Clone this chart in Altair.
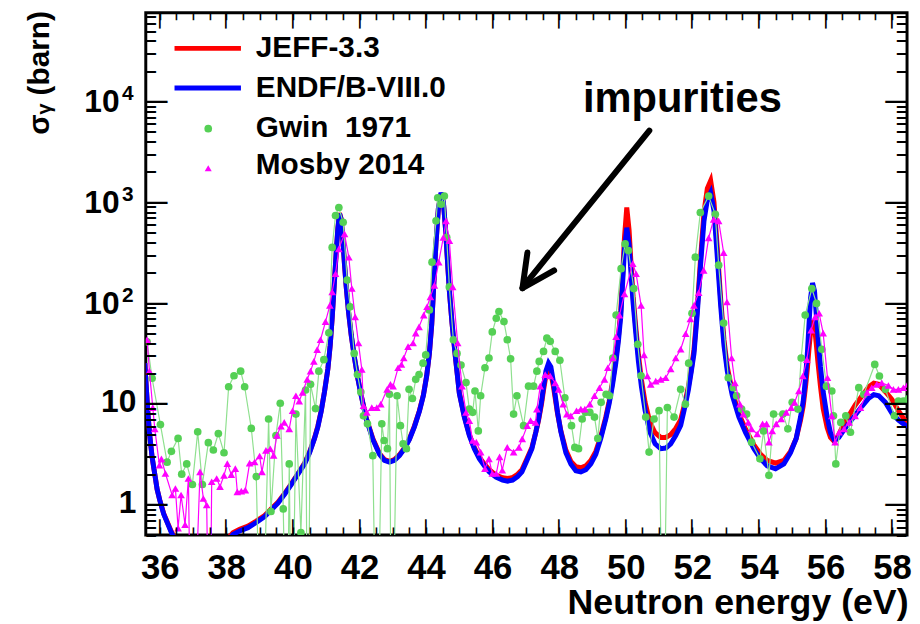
import altair as alt
import pandas as pd

# ---------------- data ----------------
# ENDF/B-VIII.0 evaluated capture cross section (E [eV], sigma [barn])
endf = [
    (35.55, 24), (35.60, 13), (35.65, 7.2), (35.70, 4.6), (35.77, 2.8), (35.85, 1.9),
    (35.92, 1.35), (36.00, 1.05), (36.12, 0.76), (36.25, 0.6), (36.35, 0.5), (36.50, 0.4),
    (36.80, 0.3), (37.20, 0.26), (37.60, 0.29), (38.00, 0.4), (38.20, 0.48), (38.40, 0.52),
    (38.65, 0.56), (38.90, 0.63), (39.15, 0.72), (39.35, 0.84), (39.55, 0.98), (39.75, 1.2),
    (39.95, 1.5), (40.15, 1.9), (40.35, 2.4), (40.50, 3.1), (40.65, 4.3), (40.75, 5.6),
    (40.85, 8.0), (40.95, 12.5), (41.05, 21), (41.12, 36), (41.18, 68), (41.24, 140),
    (41.30, 300), (41.35, 520), (41.40, 730), (41.45, 640), (41.50, 400), (41.55, 230),
    (41.60, 140), (41.67, 78), (41.75, 46), (41.85, 27), (41.95, 17), (42.05, 11.5),
    (42.20, 6.8), (42.40, 4.2), (42.60, 3.0), (42.75, 2.6), (42.90, 2.5), (43.05, 2.6),
    (43.20, 2.9), (43.35, 3.4), (43.50, 4.2), (43.65, 5.6), (43.80, 8.0), (43.92, 11.5),
    (44.02, 18), (44.10, 30), (44.17, 58), (44.23, 140), (44.30, 380), (44.37, 820),
    (44.45, 1180), (44.52, 960), (44.58, 540), (44.64, 260), (44.70, 125), (44.78, 60),
    (44.88, 28), (45.00, 12), (45.15, 7), (45.30, 4.6), (45.45, 3.4), (45.60, 2.7),
    (45.75, 2.3), (45.90, 2.0), (46.10, 1.78), (46.30, 1.66), (46.45, 1.62), (46.60, 1.66),
    (46.75, 1.8), (46.88, 2.0), (47.03, 2.6), (47.18, 3.4), (47.30, 5.0), (47.38, 6.7),
    (47.47, 10), (47.53, 14), (47.60, 20), (47.68, 24), (47.75, 22), (47.82, 16),
    (47.88, 11.5), (47.95, 7.8), (48.05, 5.0), (48.20, 3.1), (48.35, 2.4), (48.50, 2.05),
    (48.65, 2.0), (48.80, 2.1), (48.95, 2.4), (49.10, 3.0), (49.25, 4.3), (49.40, 6.7),
    (49.50, 9.5), (49.60, 14.5), (49.70, 24), (49.78, 40), (49.85, 70), (49.91, 160),
    (49.96, 320), (50.03, 530), (50.10, 360), (50.16, 180), (50.22, 95), (50.30, 48),
    (50.38, 25), (50.47, 14), (50.58, 8.2), (50.72, 5.0), (50.88, 3.8), (51.05, 3.4),
    (51.20, 3.45), (51.35, 3.8), (51.50, 4.6), (51.65, 5.8), (51.78, 9), (51.88, 13),
    (51.97, 20), (52.05, 30), (52.15, 76), (52.25, 234), (52.35, 620), (52.45, 1000),
    (52.55, 1180), (52.65, 780), (52.75, 270), (52.85, 90), (52.95, 36), (53.05, 20),
    (53.20, 11.5), (53.40, 7), (53.60, 4.9), (53.85, 3.4), (54.05, 2.7), (54.25, 2.3),
    (54.50, 2.15), (54.75, 2.4), (54.95, 3.1), (55.12, 4.3), (55.25, 7), (55.33, 10),
    (55.40, 17), (55.46, 32), (55.50, 55), (55.55, 105), (55.61, 150), (55.67, 125),
    (55.72, 75), (55.77, 45), (55.85, 22), (55.93, 12.5), (56.05, 7), (56.15, 4.9),
    (56.27, 4.1), (56.40, 4.4), (56.55, 5.2), (56.72, 6.2), (56.90, 7.4), (57.10, 9.0),
    (57.30, 10.8), (57.45, 11.7), (57.60, 11.4), (57.80, 9.8), (58.00, 7.6), (58.20, 6.5),
    (58.40, 5.8), (58.50, 5.7),
]

# JEFF-3.3 evaluated capture cross section
jeff = [
    (35.55, 24), (35.60, 13), (35.65, 7.2), (35.70, 4.6), (35.77, 2.8), (35.85, 1.9),
    (35.92, 1.35), (36.00, 1.05), (36.12, 0.77), (36.25, 0.61), (36.35, 0.51), (36.50, 0.41),
    (36.80, 0.31), (37.20, 0.27), (37.60, 0.3), (38.00, 0.42), (38.20, 0.5), (38.40, 0.54),
    (38.65, 0.58), (38.90, 0.65), (39.15, 0.74), (39.35, 0.86), (39.55, 1.0), (39.75, 1.22),
    (39.95, 1.52), (40.15, 1.92), (40.35, 2.45), (40.50, 3.15), (40.65, 4.35), (40.75, 5.7),
    (40.85, 8.1), (40.95, 12.6), (41.05, 21), (41.12, 36), (41.18, 68), (41.24, 140),
    (41.30, 300), (41.35, 520), (41.40, 740), (41.45, 650), (41.50, 400), (41.55, 230),
    (41.60, 140), (41.67, 78), (41.75, 46), (41.85, 27), (41.95, 17), (42.05, 11.6),
    (42.20, 6.9), (42.40, 4.3), (42.60, 3.05), (42.75, 2.65), (42.90, 2.55), (43.05, 2.65),
    (43.20, 2.95), (43.35, 3.45), (43.50, 4.25), (43.65, 5.7), (43.80, 8.1), (43.92, 11.6),
    (44.02, 18), (44.10, 30), (44.17, 58), (44.23, 140), (44.30, 380), (44.37, 820),
    (44.45, 1150), (44.52, 950), (44.58, 540), (44.64, 260), (44.70, 125), (44.78, 60),
    (44.88, 28), (45.00, 12.2), (45.15, 7.1), (45.30, 4.7), (45.45, 3.5), (45.60, 2.8),
    (45.75, 2.4), (45.90, 2.1), (46.10, 1.86), (46.30, 1.75), (46.45, 1.72), (46.60, 1.76),
    (46.75, 1.9), (46.88, 2.1), (47.03, 2.7), (47.18, 3.5), (47.30, 5.0), (47.38, 6.5),
    (47.47, 9.5), (47.53, 13), (47.60, 18), (47.68, 20.5), (47.75, 19), (47.82, 14.5),
    (47.88, 10.8), (47.95, 7.6), (48.05, 5.1), (48.20, 3.3), (48.35, 2.55), (48.50, 2.25),
    (48.65, 2.2), (48.80, 2.3), (48.95, 2.6), (49.10, 3.2), (49.25, 4.5), (49.40, 7.0),
    (49.50, 10), (49.60, 15.5), (49.70, 26), (49.78, 44), (49.85, 80), (49.91, 190),
    (49.96, 420), (50.03, 840), (50.10, 500), (50.16, 225), (50.22, 110), (50.30, 55),
    (50.38, 29), (50.47, 16.5), (50.58, 9.8), (50.72, 6.3), (50.88, 4.9), (51.05, 4.4),
    (51.20, 4.4), (51.35, 4.7), (51.50, 5.4), (51.65, 6.6), (51.78, 9.8), (51.88, 14),
    (51.97, 21), (52.05, 33), (52.15, 85), (52.25, 270), (52.35, 760), (52.45, 1300),
    (52.55, 1550), (52.65, 950), (52.75, 330), (52.85, 105), (52.95, 41), (53.05, 22),
    (53.20, 12.5), (53.40, 7.5), (53.60, 5.3), (53.85, 3.7), (54.05, 3.0), (54.25, 2.6),
    (54.50, 2.45), (54.75, 2.6), (54.95, 3.2), (55.12, 4.3), (55.25, 6.5), (55.33, 9),
    (55.40, 14), (55.46, 22), (55.50, 32), (55.55, 48), (55.61, 64), (55.67, 55),
    (55.72, 38), (55.77, 25), (55.85, 14), (55.93, 8.5), (56.05, 5.5), (56.15, 4.4),
    (56.27, 4.0), (56.40, 4.7), (56.55, 6.0), (56.72, 7.4), (56.90, 9.3), (57.10, 11.4),
    (57.30, 14), (57.45, 15.2), (57.60, 14.8), (57.80, 12.5), (58.00, 10.4), (58.20, 8.0),
    (58.40, 6.4), (58.50, 6.1),
]

# Gwin 1971 measured points (0.01 = value below the axis / negative)
gwin = [
    (35.62, 39), (35.77, 17), (36.02, 5.9), (36.22, 2.5), (36.35, 3.2), (36.55, 4.3),
    (36.66, 1.9), (36.81, 2.4), (36.98, 1.5), (37.14, 5.0), (37.28, 1.5), (37.46, 3.9),
    (37.61, 3.3), (37.76, 4.8), (37.93, 3.1), (38.07, 14), (38.23, 18), (38.43, 20),
    (38.55, 14), (38.75, 5.4), (38.90, 1.8), (39.05, 0.01), (39.27, 6.7), (39.34, 0.81),
    (39.49, 4.6), (39.62, 9.6), (39.71, 0.86), (39.82, 0.01), (39.89, 2.4), (39.97, 0.01),
    (40.09, 7.5), (40.24, 0.5), (40.38, 13), (40.45, 0.01), (40.53, 14.8), (40.68, 8.5),
    (40.78, 20), (40.93, 26), (41.08, 48), (41.18, 338), (41.28, 700), (41.38, 840),
    (41.51, 600), (41.63, 160), (41.72, 87), (41.84, 30), (41.94, 18.5), (42.04, 12.4),
    (42.12, 7.2), (42.24, 6.0), (42.40, 2.9), (42.52, 0.01), (42.67, 6.0), (42.74, 4.1),
    (42.84, 3.4), (42.90, 11.8), (42.97, 0.01), (43.13, 11.4), (43.23, 5.75), (43.31, 3.8),
    (43.41, 3.4), (43.49, 13.2), (43.59, 10.7), (43.69, 16.6), (43.79, 18.5), (43.91, 24),
    (43.99, 29), (44.10, 81), (44.18, 241), (44.30, 620), (44.35, 1050), (44.45, 905),
    (44.55, 1090), (44.62, 425), (44.70, 137), (44.82, 41), (44.93, 30), (45.05, 23),
    (45.20, 15.4), (45.30, 8.4), (45.40, 7.8), (45.47, 12.7), (45.57, 5.1), (45.64, 11.4),
    (45.77, 21.6), (45.89, 27), (45.99, 49), (46.11, 67), (46.19, 78), (46.34, 62),
    (46.44, 41), (46.54, 26.5), (46.63, 7.5), (46.73, 11.4), (46.93, 5.75), (47.08, 14.2),
    (47.23, 14.2), (47.33, 20), (47.40, 25), (47.53, 31.4), (47.63, 42.5), (47.73, 39.5),
    (47.88, 31.4), (48.02, 25.6), (48.17, 10.9), (48.37, 5.75), (48.47, 3.5), (48.58, 3.4),
    (48.69, 6.7), (48.79, 7.8), (48.92, 7.8), (49.06, 7.0), (49.16, 4.3), (49.26, 9.8),
    (49.41, 11.8), (49.51, 11.4), (49.61, 27), (49.71, 72), (49.86, 208), (49.98, 366),
    (50.08, 314), (50.24, 132), (50.36, 37), (50.46, 18), (50.60, 7.0), (50.70, 3.15),
    (50.85, 6.7), (51.00, 8.1), (51.12, 0.01), (51.25, 8.7), (51.45, 7.0), (51.65, 13.2),
    (51.79, 9.4), (51.89, 24), (51.99, 75), (52.09, 270), (52.24, 750), (52.49, 1090),
    (52.69, 720), (52.79, 225), (52.94, 60), (53.08, 17.2), (53.23, 13.7), (53.33, 11.4),
    (53.48, 8.4), (53.63, 7.5), (53.78, 3.95), (54.03, 2.7), (54.14, 5.1), (54.30, 1.85),
    (54.44, 7.5), (54.72, 7.5), (54.87, 5.35), (55.00, 9.8), (55.17, 8.4), (55.27, 27),
    (55.39, 72), (55.59, 132), (55.73, 94), (55.89, 33), (56.03, 14.2), (56.19, 12.7),
    (56.24, 7.2), (56.31, 2.4), (56.46, 6.2), (56.61, 7.2), (56.75, 4.95), (57.00, 13.7),
    (57.15, 11.8), (57.48, 23.3), (57.62, 17.9), (57.80, 13.2), (58.07, 7.2), (58.19, 10.1),
    (58.34, 10.1), (58.49, 10.6),
]

# Mosby 2014 measured points
mosby = [
    (35.62, 41), (35.69, 20), (35.79, 8.7), (35.85, 5.35), (35.99, 2.33), (36.05, 2.7),
    (36.17, 1.93), (36.37, 1.18), (36.47, 1.37), (36.55, 0.555), (36.64, 1.18), (36.76, 0.6),
    (36.86, 1.72), (36.96, 0.01), (37.21, 2.0), (37.31, 1.09), (37.41, 0.94), (37.50, 0.01),
    (37.56, 1.6), (37.71, 1.72), (37.81, 1.43), (37.93, 1.85), (38.03, 2.42), (38.15, 1.88),
    (38.27, 2.16), (38.33, 1.27), (38.45, 1.29), (38.57, 1.32), (38.70, 2.45), (38.85, 2.51),
    (39.00, 2.88), (39.07, 2.0), (39.19, 3.27), (39.32, 3.4), (39.42, 2.92), (39.52, 4.6),
    (39.64, 5.7), (39.74, 6.2), (39.89, 5.35), (39.99, 8.1), (40.09, 11.4), (40.19, 10.1),
    (40.29, 12.3), (40.43, 16.6), (40.53, 20), (40.63, 25), (40.73, 32.7), (40.83, 41),
    (40.98, 62), (41.11, 90), (41.18, 122), (41.28, 185), (41.38, 327), (41.55, 460),
    (41.68, 270), (41.77, 132), (41.87, 69), (41.97, 38), (42.07, 20.8), (42.12, 9.1),
    (42.22, 7.8), (42.37, 8.7), (42.52, 8.7), (42.64, 9.4), (42.83, 13.2), (42.93, 14.8),
    (43.01, 14.2), (43.16, 21.6), (43.26, 23.3), (43.33, 27), (43.46, 35), (43.61, 38),
    (43.69, 47.7), (43.79, 55), (43.93, 72), (44.03, 87), (44.13, 109), (44.25, 142),
    (44.38, 241), (44.52, 425), (44.60, 620), (44.70, 395), (44.80, 137), (44.95, 38),
    (45.08, 14.2), (45.20, 7.8), (45.30, 6.45), (45.40, 4.1), (45.51, 3.95), (45.64, 3.15),
    (45.77, 2.16), (45.89, 2.7), (45.99, 1.93), (46.11, 1.93), (46.21, 2.82), (46.29, 2.08),
    (46.44, 3.5), (46.63, 3.15), (46.79, 3.5), (46.89, 4.26), (47.04, 5.75), (47.14, 6.45),
    (47.29, 6.2), (47.33, 8.4), (47.43, 14.2), (47.58, 18.5), (47.73, 17.9), (47.88, 15.3),
    (47.98, 13.2), (48.12, 9.4), (48.23, 7.5), (48.35, 7.2), (48.52, 8.1), (48.65, 8.4),
    (48.77, 8.4), (48.92, 9.4), (49.06, 11.4), (49.21, 13.7), (49.36, 16.6), (49.46, 21.6),
    (49.61, 27), (49.71, 44), (49.81, 72), (49.96, 117), (50.21, 233), (50.31, 185),
    (50.46, 90), (50.55, 29), (50.65, 17.9), (50.75, 14.8), (50.90, 15.9), (51.05, 16.6),
    (51.20, 17.2), (51.35, 21), (51.50, 27), (51.65, 33), (51.80, 47), (51.94, 66),
    (52.05, 90), (52.19, 120), (52.34, 200), (52.49, 420), (52.64, 640), (52.79, 620),
    (52.94, 300), (53.04, 97), (53.18, 27), (53.28, 15.3), (53.43, 9.4), (53.53, 7.5),
    (53.68, 6.2), (53.78, 5.35), (53.95, 4.76), (54.11, 6.0), (54.23, 6.0), (54.30, 3.95),
    (54.40, 5.1), (54.52, 6.0), (54.67, 6.7), (54.82, 7.8), (54.97, 8.7), (55.07, 9.8),
    (55.20, 12.7), (55.32, 17.9), (55.44, 26), (55.57, 51), (55.69, 69), (55.81, 75),
    (55.93, 47.7), (56.06, 17.2), (56.19, 7.2), (56.29, 3.95), (56.41, 4.95), (56.56, 5.35),
    (56.71, 6.2), (56.89, 7.2), (57.05, 8.7), (57.25, 12.3), (57.39, 13.7), (57.54, 14.8),
    (57.69, 15.3), (57.89, 14.4), (58.04, 13.2), (58.19, 13.2), (58.34, 13.7), (58.47, 14.8),
]

x_domain = [35.58, 58.45]
y_domain = [0.473, 72000]
x_major = [36, 38, 40, 42, 44, 46, 48, 50, 52, 54, 56, 58]
x_minor = [36 + 0.5 * i for i in range(45)]
y_major = [1, 10, 100, 1000, 10000]
y_minor = [m * 10 ** k for k in range(-1, 5) for m in range(2, 10)
           if y_domain[0] < m * 10 ** k < y_domain[1]]
y_low_labels = [1, 10]
y_sup_values = [100, 1000, 10000]
y_sup_text = ["2", "3", "4"]

legend_labels = ["JEFF-3.3", "ENDF/B-VIII.0", "Gwin\u00a0\u00a01971", "Mosby 2014"]
annotation_text = "impurities"
x_title = "Neutron energy (eV)"
y_title = "σᵧ (barn)"

# ---------------- chart ----------------
def frame(rows):
    return pd.DataFrame(rows, columns=["E", "s"])

df_endf, df_jeff, df_gwin, df_mosby = frame(endf), frame(jeff), frame(gwin), frame(mosby)

FONT = "Liberation Sans"
W, H = 768, 527
xs = alt.Scale(domain=x_domain, nice=False, zero=False)
ys = alt.Scale(type="log", domain=y_domain, nice=False)
X = lambda axis=None, f="E:Q": alt.X(f, scale=xs, axis=axis)
Y = lambda axis=None, f="s:Q": alt.Y(f, scale=ys, axis=axis)

RED, BLUE, GREEN, GREEN_LINE, MAG = "#ff0000", "#0000ff", "#55d055", "#8fe08f", "#ff00ff"

l_jeff = alt.Chart(df_jeff).mark_line(color=RED, strokeWidth=5, clip=True).encode(x=X(), y=Y())
l_endf = alt.Chart(df_endf).mark_line(color=BLUE, strokeWidth=5, clip=True).encode(x=X(), y=Y())
l_gwin = alt.Chart(df_gwin).mark_line(color=GREEN_LINE, strokeWidth=1.2, clip=True).encode(x=X(), y=Y())
p_gwin = alt.Chart(df_gwin).mark_circle(color=GREEN, size=60, opacity=1, clip=True).encode(x=X(), y=Y())
l_mos = alt.Chart(df_mosby).mark_line(color=MAG, strokeWidth=1.2, clip=True).encode(x=X(), y=Y())
p_mos = alt.Chart(df_mosby).mark_point(shape="triangle-up", filled=True, color=MAG, size=60,
                                        opacity=1, clip=True).encode(x=X(), y=Y())

# ---- inward tick marks (ROOT style): dash glyphs placed by the shared scales.
# em dash = 1 em long, en dash = 0.556 em long (Liberation Sans)
df_xmaj = pd.DataFrame({"E": x_major})
df_xmin = pd.DataFrame({"E": x_minor})
df_ymaj = pd.DataFrame({"s": y_major})
df_ymin = pd.DataFrame({"s": y_minor})
EM, EN = "\u2014", "\u2013"


def xtick_text(df, glyph, fsize, ypos):
    return alt.Chart(df).mark_text(text=glyph, font=FONT, fontWeight="bold", fontSize=fsize,
                                   angle=90, align="center", baseline="middle", dx=0,
                                   color="black").encode(x=X(), y=alt.value(ypos))


def ytick_text(df, glyph, fsize, xpos, align):
    return alt.Chart(df).mark_text(text=glyph, font=FONT, fontWeight="bold", fontSize=fsize,
                                   align=align, baseline="middle", dy=2,
                                   color="black").encode(y=Y(), x=alt.value(xpos))


tick_layers = [
    xtick_text(df_xmaj, EM, 16, H - 8), xtick_text(df_xmin, EN, 14.4, H - 4),
    xtick_text(df_xmaj, EM, 16, 8), xtick_text(df_xmin, EN, 14.4, 4),
    ytick_text(df_ymaj, EM, 22, 0, "left"), ytick_text(df_ymin, EN, 19.8, 0, "left"),
    ytick_text(df_ymaj, EM, 22, W, "right"), ytick_text(df_ymin, EN, 19.8, W, "right"),
]

ghost = alt.Chart(df_endf).mark_point(opacity=0)
label_layers = [
    ghost.encode(x=X(alt.Axis(orient="bottom", values=x_major, ticks=False, domain=False, grid=False,
                              labelFont=FONT, labelFontWeight="bold", labelFontSize=35,
                              labelColor="black", labelPadding=33, labelBaseline="middle",
                              labelFlush=False, format="d",
                              title=x_title, titleFont=FONT, titleFontWeight="bold",
                              titleFontSize=36, titleColor="black", titleX=W + 1, titleY=79,
                              titleAlign="right", titleBaseline="alphabetic")), y=Y()),
    ghost.encode(x=X(), y=Y(alt.Axis(orient="left", values=y_low_labels, ticks=False, domain=False,
                                     grid=False, labelFont=FONT, labelFontWeight="bold",
                                     labelFontSize=32, labelColor="black", labelPadding=10,
                                     labelBaseline="middle", labelFlush=False, format="d",
                                     title=y_title, titleFont=FONT, titleFontWeight="bold",
                                     titleFontSize=30, titleColor="black", titleX=-107, titleY=-2,
                                     titleAngle=270, titleAlign="right",
                                     titleBaseline="middle"))),
    ghost.encode(x=X(), y=Y(alt.Axis(orient="left", values=y_sup_values, ticks=False, domain=False,
                                     grid=False, labelFont=FONT, labelFontWeight="bold",
                                     labelFontSize=32, labelColor="black", labelPadding=27,
                                     labelOffset=3, labelBaseline="middle", labelFlush=False,
                                     labelExpr="'10'", title=None))),
]

sup = alt.Chart(pd.DataFrame({"v": y_sup_values, "t": y_sup_text})).mark_text(
    font=FONT, fontWeight="bold", fontSize=21, align="left", baseline="middle", dy=-5, color="black"
).encode(x=alt.value(-24), y=Y(f="v:Q"), text="t:N")

one = alt.Data(values=[{}])
leg = []
for i, (lab, col) in enumerate(zip(legend_labels, [RED, BLUE, GREEN, MAG])):
    yy = 36 + 40 * i - (2 if i == 3 else 0)
    if i < 2:
        leg.append(alt.Chart(one).mark_rule(color=col, strokeWidth=5).encode(
            x=alt.value(29), x2=alt.value(96), y=alt.value(yy)))
    elif i == 2:
        leg.append(alt.Chart(one).mark_circle(color=col, size=60, opacity=1).encode(
            x=alt.value(63), y=alt.value(yy + 1)))
    else:
        leg.append(alt.Chart(one).mark_point(shape="triangle-up", filled=True, color=col, size=50,
                                              opacity=1).encode(x=alt.value(63), y=alt.value(yy + 3)))
    leg.append(alt.Chart(one).mark_text(text=lab, font=FONT, fontWeight="bold", fontSize=30,
                                        align="left", baseline="middle", color="black").encode(
        x=alt.value(111), y=alt.value(yy)))

arrow = [
    alt.Chart(one).mark_rule(color="black", strokeWidth=6, strokeCap="round").encode(
        x=alt.value(508), y=alt.value(119), x2=alt.value(381), y2=alt.value(276)),
    alt.Chart(one).mark_rule(color="black", strokeWidth=6, strokeCap="round").encode(
        x=alt.value(380), y=alt.value(278), x2=alt.value(385), y2=alt.value(242)),
    alt.Chart(one).mark_rule(color="black", strokeWidth=6, strokeCap="round").encode(
        x=alt.value(380), y=alt.value(278), x2=alt.value(412), y2=alt.value(260)),
    alt.Chart(one).mark_text(text=annotation_text, font=FONT, fontWeight="bold", fontSize=42,
                             align="left", baseline="middle", color="black").encode(
        x=alt.value(441), y=alt.value(87)),
]

chart = alt.layer(
    *label_layers, l_jeff, l_endf, l_gwin, p_gwin, l_mos, p_mos, sup, *tick_layers,
    *leg, *arrow
).resolve_axis(x="independent", y="independent").properties(
    width=W, height=H,
    padding={"left": 139, "top": 2, "right": 5, "bottom": 86},
    autosize=alt.AutoSizeParams(type="none"),
    background="white",
).configure_view(stroke="black", strokeWidth=3)

chart.save("out.html", embed_options={"renderer": "svg", "actions": False})
